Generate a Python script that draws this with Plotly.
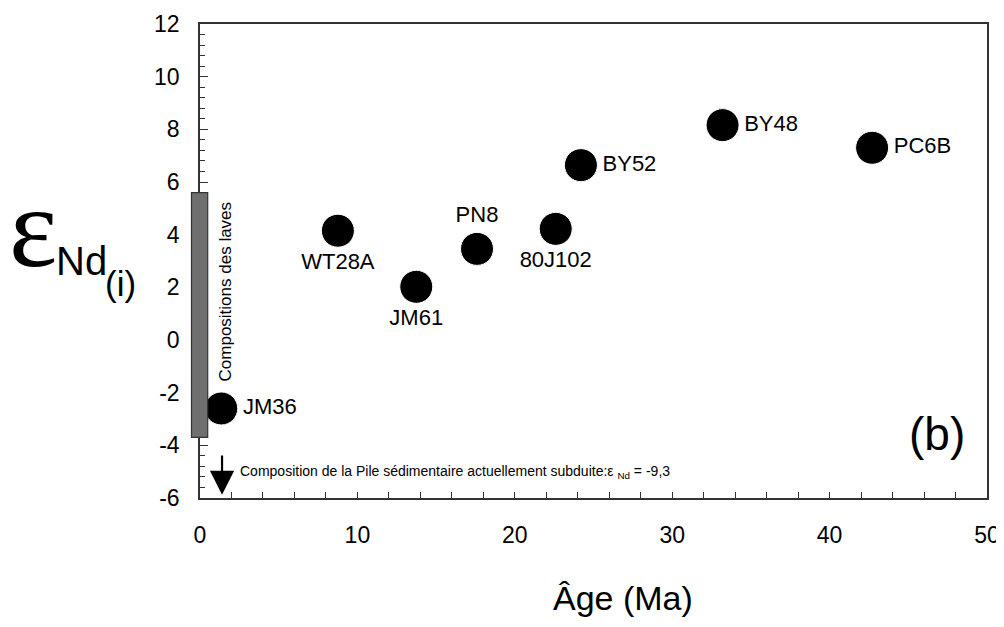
import plotly.graph_objects as go

# ---- data ----
samples = ["JM36", "WT28A", "JM61", "PN8", "80J102", "BY52", "BY48", "PC6B"]
ages = [1.35, 8.76, 13.74, 17.6, 22.6, 24.2, 33.2, 42.7]
eps_nd = [-2.6, 4.15, 2.02, 3.46, 4.22, 6.64, 8.16, 7.30]
label_pos = ["middle right", "bottom center", "bottom center", "top center",
             "bottom center", "middle right", "middle right", "middle right"]
lava_range = [-3.7, 5.6]          # eps Nd range of lava compositions
sed_arrow_age = 1.4
sed_arrow_from, sed_arrow_to = -4.33, -5.88
x_ticks = [0, 10, 20, 30, 40, 50]
x_tick_labels = ["0", "10", "20", "30", "40", "50"]
y_ticks = [-6, -4, -2, 0, 2, 4, 6, 8, 10, 12]
y_tick_labels = ["-6", "-4", "-2", "0", "2", "4", "6", "8", "10", "12"]

FONT = "Liberation Sans, Arial, sans-serif"

fig = go.Figure()

fig.add_trace(go.Scatter(
    x=ages, y=eps_nd, mode="markers+text", text=samples,
    textposition=label_pos,
    textfont=dict(family=FONT, size=22, color="black"),
    marker=dict(size=33, color="black", line=dict(color="white", width=1)),
    cliponaxis=False, showlegend=False))

axis_common = dict(showline=True, linecolor="#333333", linewidth=1.5, mirror=True,
                   showgrid=False, zeroline=False, ticks="inside", automargin=False,
                   tickcolor="#333333", tickwidth=1.2, ticklabeloverflow="allow",
                   tickfont=dict(family=FONT, size=23, color="black"))

# page body has an 8px margin, so the figure is sized to fit the 1004x627 window
fig.update_layout(
    width=996, height=611, autosize=False,
    margin=dict(l=192, r=17, t=16, b=121),
    plot_bgcolor="white", paper_bgcolor="white",
    xaxis=dict(range=[0, 50], tickvals=x_ticks, ticktext=x_tick_labels, ticklen=6,
               ticklabelstandoff=16,
               minor=dict(dtick=2, ticks="inside", ticklen=6, tickcolor="#333333"),
               **axis_common),
    yaxis=dict(range=[-6, 12], tickvals=y_ticks, ticktext=y_tick_labels, ticklen=8,
               ticklabelstandoff=14,
               minor=dict(dtick=0.4, ticks="inside", ticklen=5, tickcolor="#333333"),
               **axis_common),
)

# lava composition range bar
fig.add_shape(type="rect", xref="x domain", yref="y",
              x0=-0.0108, x1=0.0098, y0=lava_range[0], y1=lava_range[1],
              fillcolor="#6f6f6f", line=dict(color="#333333", width=1.2),
              layer="above")

annots = [
    # x axis title
    dict(text="Âge (Ma)", xref="paper", yref="paper", x=0.538, y=-0.256,
         showarrow=False, font=dict(family=FONT, size=34, color="black")),
    # y axis title pieces
    dict(text="ε", xref="paper", yref="paper", x=-0.212, y=0.57, xanchor="center",
         showarrow=False, font=dict(family="Liberation Serif, Times New Roman, serif", size=115, color="black")),
    dict(text="Nd", xref="paper", yref="paper", x=-0.151, y=0.50, xanchor="center",
         showarrow=False, font=dict(family=FONT, size=40, color="black")),
    dict(text="(i)", xref="paper", yref="paper", x=-0.1004, y=0.453, xanchor="center",
         showarrow=False, font=dict(family=FONT, size=35, color="black")),
    # lava label
    dict(text="Compositions des laves", xref="x", yref="y", x=1.6,
         y=(lava_range[0] + lava_range[1]) / 2 + 0.9, textangle=-90,
         showarrow=False, font=dict(family=FONT, size=17, color="black")),
    # sediment arrow
    dict(text="", x=sed_arrow_age, y=sed_arrow_to, ax=sed_arrow_age, ay=sed_arrow_from,
         xref="x", yref="y", axref="x", ayref="y", showarrow=True,
         arrowhead=2, arrowsize=2.2, arrowwidth=2.2, arrowcolor="black"),
    dict(text="Composition de la Pile sédimentaire actuellement subduite:ε <sub>Nd</sub> = -9,3",
         xref="x", yref="y", x=2.4, y=-5.0, xanchor="left", showarrow=False,
         font=dict(family=FONT, size=14, color="black")),
    # panel label
    dict(text="(b)", xref="paper", yref="paper", x=0.937, y=0.075, xanchor="center",
         showarrow=False, font=dict(family=FONT, size=46, color="black")),
]
fig.update_layout(annotations=annots)

fig.write_html("out.html")
